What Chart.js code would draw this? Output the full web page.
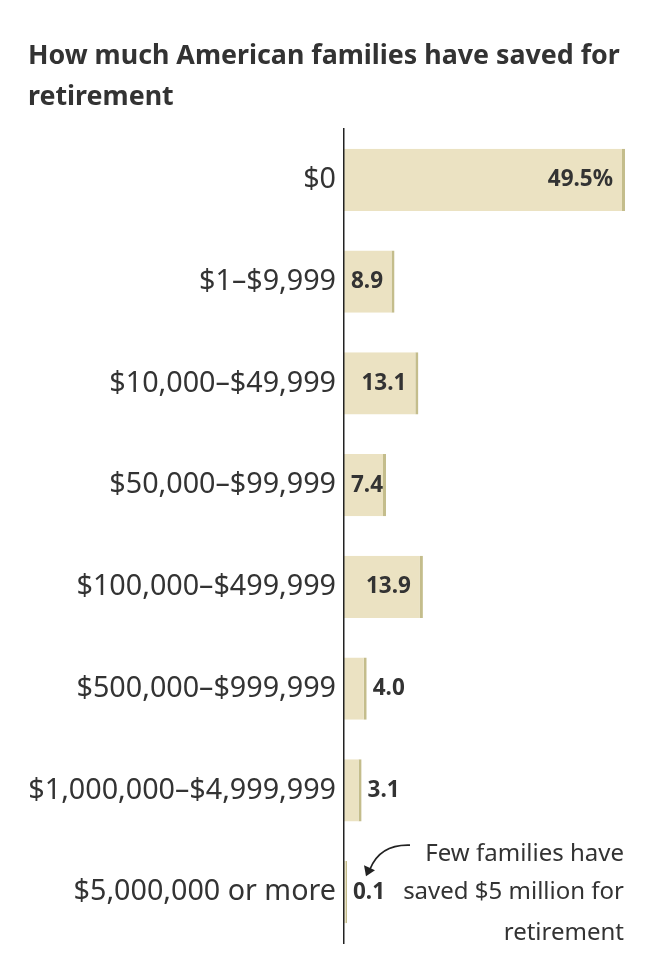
<!DOCTYPE html>
<html>
<head>
<meta charset="utf-8">
<script src="https://cdn.jsdelivr.net/npm/chart.js@4"></script>
<style>
  html, body { margin: 0; padding: 0; background: #fff; }
  #wrap { position: relative; width: 665px; height: 969px; overflow: hidden; }
  #title { position: absolute; left: 28px; top: 33px; width: 630px; font-family: "Noto Sans", sans-serif; font-weight: 700; font-size: 26.8px; line-height: 41px; color: #333; }
  #cv { position: absolute; left: 0; top: 0; }
</style>
</head>
<body>
<div id="wrap">
  <canvas id="cv" width="665" height="969"></canvas>
  <div id="title">How much American families have saved for retirement</div>
</div>
<script>
const categories = ["$0", "$1–$9,999", "$10,000–$49,999", "$50,000–$99,999", "$100,000–$499,999", "$500,000–$999,999", "$1,000,000–$4,999,999", "$5,000,000 or more"];
const shares = [49.5, 8.9, 13.1, 7.4, 13.9, 4.0, 3.1, 0.1];
const valueLabels = ["49.5%", "8.9", "13.1", "7.4", "13.9", "4.0", "3.1", "0.1"];
const noteLines = ["Few families have", "saved $5 million for", "retirement"];

const FILL = "#ebe2c2";
const EDGE = "#c4bd8c";
const TEXT = "#333333";

const labelPlugin = {
  id: "valueLabels",
  afterDatasetsDraw(chart) {
    const ctx = chart.ctx;
    const meta = chart.getDatasetMeta(0);
    const xs = chart.scales.x;
    const x0 = xs.getPixelForValue(0);
    ctx.save();
    ctx.font = "700 22.5px 'Noto Sans', sans-serif";
    ctx.fillStyle = TEXT;
    ctx.textBaseline = "middle";
    meta.data.forEach((bar, i) => {
      const v = shares[i];
      const end = bar.x;
      const y = bar.y;
      if (v >= 10) {
        ctx.textAlign = "right";
        ctx.fillText(valueLabels[i], end - 12, y);
      } else if (v >= 5) {
        ctx.textAlign = "left";
        ctx.fillText(valueLabels[i], x0 + 7, y);
      } else {
        ctx.textAlign = "left";
        ctx.fillText(valueLabels[i], Math.max(end, x0 + 2) + 6, y);
      }
    });
    // annotation
    const last = meta.data[meta.data.length - 1];
    const cy = last.y;
    const right = chart.chartArea.right - 1;
    ctx.font = "400 24px 'Noto Sans', sans-serif";
    ctx.textAlign = "right";
    ctx.fillText(noteLines[0], right, cy - 38);
    ctx.fillText(noteLines[1], right, cy);
    ctx.fillText(noteLines[2], right, cy + 41);
    // curved arrow
    ctx.strokeStyle = "#222";
    ctx.lineWidth = 1.6;
    ctx.beginPath();
    const sx = x0 + 66, sy = cy - 47;
    const ex = x0 + 23, ey = cy - 17;
    ctx.moveTo(sx, sy);
    ctx.quadraticCurveTo(x0 + 36, sy - 1, ex + 3, ey - 6);
    ctx.stroke();
    ctx.fillStyle = "#222";
    ctx.beginPath();
    ctx.moveTo(ex - 1, ey + 1);
    ctx.lineTo(ex - 3, ey - 10);
    ctx.lineTo(ex + 8, ey - 5);
    ctx.closePath();
    ctx.fill();
    ctx.restore();
  }
};

new Chart(document.getElementById("cv"), {
  type: "bar",
  data: {
    labels: categories,
    datasets: [{
      data: shares,
      backgroundColor: FILL,
      borderColor: EDGE,
      borderWidth: { top: 0, bottom: 0, left: 0, right: 3 },
      borderSkipped: "start",
      minBarLength: 3,
      barPercentage: 0.61,
      categoryPercentage: 1.0
    }]
  },
  options: {
    indexAxis: "y",
    responsive: false,
    animation: false,
    devicePixelRatio: 1,
    layout: { padding: { top: 129, bottom: 26, left: 0, right: 40 } },
    plugins: { legend: { display: false }, tooltip: { enabled: false }, title: { display: false } },
    scales: {
      x: { display: false, min: 0, max: 49.5 },
      y: {
        afterFit(scale) { scale.width = 344; },
        grid: { display: false, drawTicks: false },
        border: { display: true, color: "#222", width: 1.5, z: 1 },
        ticks: {
          padding: 8,
          color: TEXT,
          font: { family: "'Noto Sans', sans-serif", size: 28.7, weight: 400 }
        }
      }
    }
  },
  plugins: [labelPlugin]
});
</script>
</body>
</html>
